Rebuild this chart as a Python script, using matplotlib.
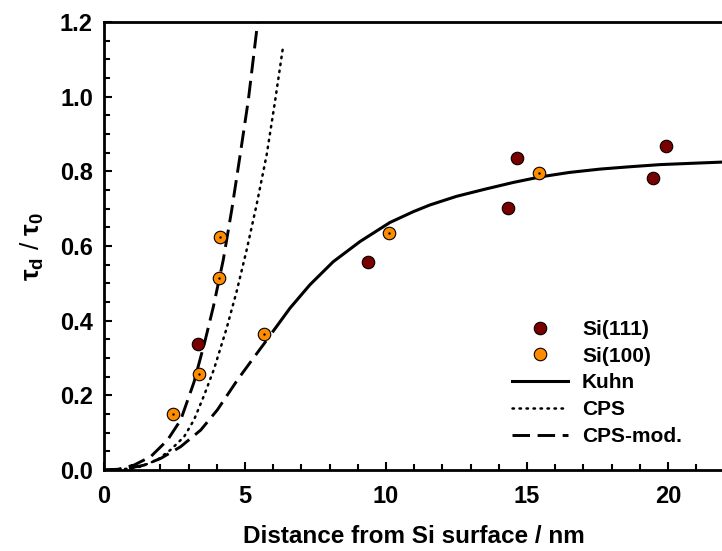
import numpy as np
import matplotlib
matplotlib.use("Agg")
from matplotlib import pyplot as plt
from matplotlib.ticker import MultipleLocator, FormatStrFormatter

plt.rcParams['font.family'] = ['Liberation Sans', 'DejaVu Sans']
plt.rcParams['font.weight'] = 'bold'
plt.rcParams['mathtext.fontset'] = 'custom'
plt.rcParams['mathtext.rm'] = 'Liberation Sans:bold'
plt.rcParams['mathtext.it'] = 'Liberation Sans:bold'
plt.rcParams['mathtext.bf'] = 'Liberation Sans:bold'

# measured data
si111_x = [3.33, 9.35, 14.34, 14.66, 19.48, 19.94]
si111_y = [0.337, 0.558, 0.701, 0.837, 0.781, 0.869]
si100_x = [2.43, 3.36, 4.08, 4.11, 5.67, 10.11, 15.43]
si100_y = [0.151, 0.257, 0.514, 0.623, 0.364, 0.634, 0.796]

# model curves
kuhn_x = [6.0, 6.6, 7.3, 8.13, 9.08, 10.14, 10.97, 11.56, 12.5, 13.5, 14.5, 15.46, 16.5,
          17.59, 18.6, 19.72, 21.0, 22.0]
kuhn_y = [0.372, 0.434, 0.496, 0.558, 0.612, 0.663, 0.692, 0.71, 0.733, 0.752, 0.77, 0.785,
          0.797, 0.806, 0.812, 0.818, 0.822, 0.825]
kuhn_near_x = [0.0, 0.71, 1.42, 2.01, 2.72, 3.43, 4.02, 4.73, 5.3, 5.91]
kuhn_near_y = [0.0, 0.002, 0.013, 0.031, 0.0625, 0.107, 0.161, 0.241, 0.30, 0.362]
cps_x = [0.0, 0.6, 1.3, 1.89, 2.36, 2.84, 3.19, 3.55, 3.9, 4.35, 4.71, 5.06, 5.41, 5.77, 6.06, 6.36]
cps_y = [0.0, 0.001, 0.009, 0.027, 0.054, 0.089, 0.134, 0.20, 0.27, 0.38, 0.48, 0.59, 0.71, 0.845, 0.985, 1.139]
cpsmod_x = [0.0, 0.5, 1.06, 1.66, 2.25, 2.72, 3.19, 3.58, 3.88, 4.23, 4.53, 4.82, 5.12, 5.45]
cpsmod_y = [0.0, 0.002, 0.013, 0.036, 0.08, 0.134, 0.235, 0.345, 0.438, 0.563, 0.697, 0.84, 0.992, 1.2]

dark_red = '#7a0000'
orange = '#ff8c00'

fig = plt.figure(figsize=(7.22, 5.51), dpi=100)
ax = fig.add_axes([104 / 722, 1 - 470 / 551, 620.4 / 722, 448 / 551])

dash = (0, (6, 2.6))
ax.plot(kuhn_near_x, kuhn_near_y, color='k', lw=2.1, linestyle=dash)
ax.plot(kuhn_x, kuhn_y, color='k', lw=2.2, label='Kuhn')
ax.plot(cps_x, cps_y, color='k', lw=1.8, linestyle=(0, (0.6, 2.2)),
        dash_capstyle='round', label='CPS')
ax.plot(cpsmod_x, cpsmod_y, color='k', lw=2.1, linestyle=dash, label='CPS-mod.')

ax.plot(si111_x, si111_y, 'o', ms=9, mfc=dark_red, mec='k', mew=0.8,
        linestyle='none', label='Si(111)', zorder=5)
ax.plot(si100_x, si100_y, 'o', ms=9, mfc=orange, mec='k', mew=0.8,
        linestyle='none', label='Si(100)', zorder=5)
ax.plot(si100_x, si100_y, '.', ms=1.5, color='k', linestyle='none', zorder=6)

ax.set_xlim(0, 22)
ax.set_ylim(0, 1.2)
ax.xaxis.set_major_locator(MultipleLocator(5))
ax.xaxis.set_minor_locator(MultipleLocator(1))
ax.yaxis.set_major_locator(MultipleLocator(0.2))
ax.yaxis.set_minor_locator(MultipleLocator(0.05))
ax.yaxis.set_major_formatter(FormatStrFormatter('%.1f'))
ax.tick_params(which='both', direction='in', top=False, right=False, width=1.5,
               labelsize=17)
ax.tick_params(which='major', length=6)
ax.tick_params(which='minor', length=4.5)
ax.tick_params(axis='x', pad=11)
ax.tick_params(axis='y', pad=8)
for sp in ax.spines.values():
    sp.set_linewidth(2)

ax.set_xlabel('Distance from Si surface / nm', fontsize=17.5, fontweight='bold', labelpad=12)
ax.set_ylabel(r'$\tau_{\mathrm{d}}$ / $\tau_{\mathrm{0}}$', fontsize=19, labelpad=10)

handles, labels = ax.get_legend_handles_labels()
order = [3, 4, 0, 1, 2]
ax.legend([handles[i] for i in order], [labels[i] for i in order],
          loc='upper left', bbox_to_anchor=(512 / 722, 1 - 320 / 551),
          bbox_transform=fig.transFigure, frameon=False, fontsize=15,
          handlelength=2.7, handletextpad=0.66, labelspacing=0.37,
          borderpad=0, borderaxespad=0)

fig.savefig('out.png', dpi=100)
